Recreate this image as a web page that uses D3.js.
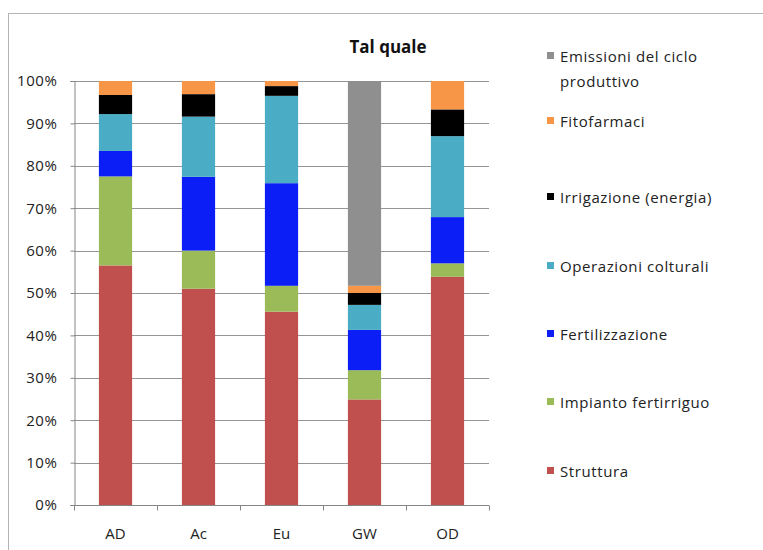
<!DOCTYPE html>
<style>
body {
  margin: 0;
  font-family: 'Open Sans', sans-serif;
  background: #fff;
}
.axis .domain {
  stroke: #868686;
}
.axis line {
  stroke: #868686;
}
</style>
<svg width="763" height="550"></svg>
<script src="https://d3js.org/d3.v7.min.js"></script>
<script>
// data (percent of total)
var categories = ["AD", "Ac", "Eu", "GW", "OD"];
var seriesNames = ["Struttura", "Impianto fertirriguo", "Fertilizzazione", "Operazioni colturali",
                   "Irrigazione (energia)", "Fitofarmaci", "Emissioni del ciclo produttivo"];
var struttura   = [56.5, 51.0, 45.6, 24.9, 53.8];
var impianto    = [21.0,  9.0,  6.1,  6.9,  3.2];
var fertilizz   = [ 6.0, 17.4, 24.2,  9.5, 10.9];
var operazioni  = [ 8.7, 14.2, 20.6,  5.9, 19.1];
var irrigazione = [ 4.5,  5.3,  2.3,  2.8,  6.3];
var fitofarmaci = [ 3.3,  3.1,  1.2,  1.7,  6.7];
var emissioni   = [ 0.0,  0.0,  0.0, 48.3,  0.0];
var yTicks = [0, 10, 20, 30, 40, 50, 60, 70, 80, 90, 100];

var colors = ["#C0504D", "#9BBB59", "#0A1EF5", "#4BACC6", "#000000", "#F79646", "#8F8F8F"];
var allSeries = [struttura, impianto, fertilizz, operazioni, irrigazione, fitofarmaci, emissioni];

// build table for d3.stack
var rows = categories.map(function(c, i) {
  var r = { cat: c };
  seriesNames.forEach(function(k, j) { r[k] = allSeries[j][i]; });
  return r;
});

var svg = d3.select("svg");

// outer frame
svg.append("rect")
    .attr("x", 8.5).attr("y", 13.5)
    .attr("width", 800).attr("height", 600)
    .attr("fill", "none")
    .attr("stroke", "#b4b4b4");

var plotLeft = 74, plotRight = 489, plotTop = 81, plotBottom = 505;

var x = d3.scaleBand()
    .domain(categories)
    .range([plotLeft, plotRight])
    .paddingInner(0.6)
    .paddingOuter(0.3);

var xb = d3.scaleBand().domain(categories).range([plotLeft, plotRight]);

var y = d3.scaleLinear()
    .domain([0, 100])
    .range([plotBottom, plotTop]);

var z = d3.scaleOrdinal().domain(seriesNames).range(colors);

// gridlines
svg.append("g")
  .selectAll("line")
  .data(yTicks.slice(1))
  .enter().append("line")
    .attr("x1", plotLeft).attr("x2", plotRight)
    .attr("y1", function(d) { return Math.round(y(d)) + 0.5; })
    .attr("y2", function(d) { return Math.round(y(d)) + 0.5; })
    .attr("stroke", "#959595");

// bars
var stack = d3.stack().keys(seriesNames)(rows);
svg.append("g")
  .selectAll("g")
  .data(stack)
  .enter().append("g")
    .attr("fill", function(d) { return z(d.key); })
  .selectAll("rect")
  .data(function(d) { return d; })
  .enter().append("rect")
    .attr("x", function(d) { return x(d.data.cat); })
    .attr("y", function(d) { return y(d[1]); })
    .attr("height", function(d) { return y(d[0]) - y(d[1]); })
    .attr("width", x.bandwidth());

// y axis
var yAxis = svg.append("g")
    .attr("class", "axis")
    .attr("transform", "translate(" + (plotLeft + 0.5) + ",0)")
    .call(d3.axisLeft(y).tickValues(yTicks).tickSize(4).tickPadding(13)
      .tickFormat(function(d) { return d + "%"; }));
yAxis.selectAll("text")
    .attr("font-family", "'Open Sans', sans-serif")
    .attr("font-size", 15)
    .attr("letter-spacing", 0.6)
    .attr("fill", "#222");

// x axis
var xAxis = svg.append("g")
    .attr("class", "axis")
    .attr("transform", "translate(0," + (plotBottom + 0.5) + ")");
xAxis.append("line")
    .attr("x1", plotLeft).attr("x2", plotRight)
    .attr("stroke", "#868686");
xAxis.selectAll(".tk")
  .data(categories.concat(["end"]))
  .enter().append("line")
    .attr("class", "tk")
    .attr("x1", function(d, i) { return Math.round(plotLeft + i * xb.bandwidth()) + 0.5; })
    .attr("x2", function(d, i) { return Math.round(plotLeft + i * xb.bandwidth()) + 0.5; })
    .attr("y1", 0).attr("y2", 5)
    .attr("stroke", "#868686");
xAxis.selectAll("text")
  .data(categories)
  .enter().append("text")
    .attr("x", function(d) { return x(d) + x.bandwidth() / 2; })
    .attr("y", 33)
    .attr("text-anchor", "middle")
    .attr("font-size", 15)
    .attr("fill", "#222")
    .text(function(d) { return d; });

// title
svg.append("text")
    .attr("x", 388)
    .attr("y", 53)
    .attr("text-anchor", "middle")
    .attr("font-size", 17)
    .attr("font-weight", "bold")
    .attr("fill", "#111")
    .text("Tal quale");

// legend (top entry = last series)
var legendY = [57, 122, 198, 267, 335, 403, 472];
var legend = svg.append("g")
  .selectAll("g")
  .data(seriesNames.slice().reverse())
  .enter().append("g")
    .attr("transform", function(d, i) { return "translate(547," + legendY[i] + ")"; });

legend.append("rect")
    .attr("x", 0).attr("y", -5)
    .attr("width", 7).attr("height", 7)
    .attr("fill", z);

legend.append("text")
    .attr("x", 13)
    .attr("y", 0)
    .attr("dy", "0.35em")
    .attr("font-size", 15)
    .attr("letter-spacing", 0.6)
    .attr("fill", "#222")
    .each(function(d) {
      var t = d3.select(this);
      if (d === "Emissioni del ciclo produttivo") {
        t.append("tspan").attr("x", 13).text("Emissioni del ciclo");
        t.append("tspan").attr("x", 13).attr("dy", "1.65em").text("produttivo");
      } else {
        t.text(d);
      }
    });
</script>
